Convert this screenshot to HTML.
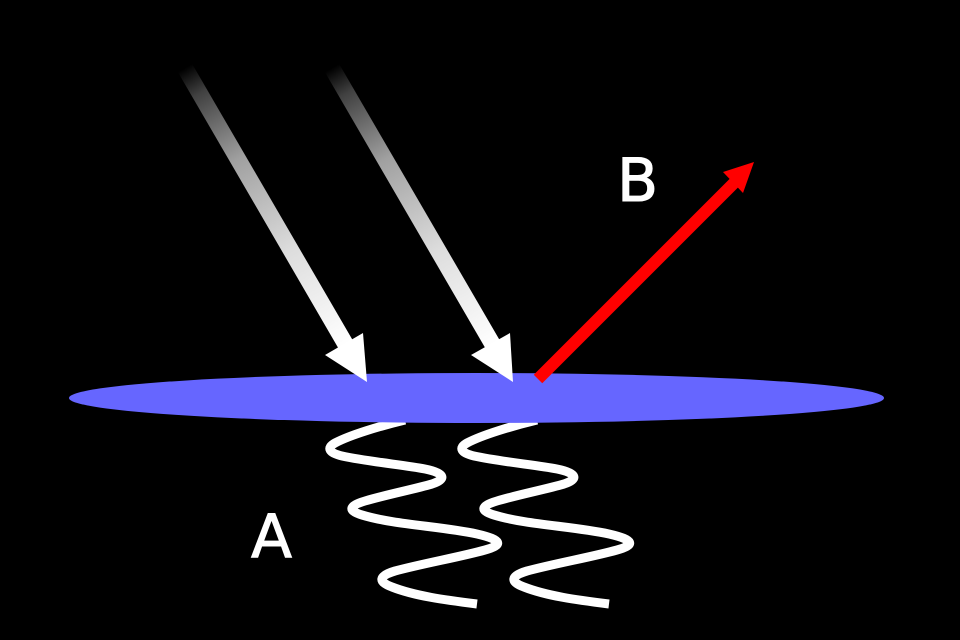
<!DOCTYPE html>
<html>
<head>
<meta charset="utf-8">
<style>
html,body{margin:0;padding:0;background:#000;width:960px;height:640px;overflow:hidden}
svg{display:block}
text{font-family:"DejaVu Sans",sans-serif;fill:#fff;stroke:#fff;stroke-width:1px;font-size:60px}
</style>
</head>
<body>
<svg width="960" height="640" viewBox="0 0 960 640" xmlns="http://www.w3.org/2000/svg">
<defs>
<linearGradient id="g1" gradientUnits="userSpaceOnUse" x1="185" y1="68" x2="346" y2="345">
<stop offset="0" stop-color="#000"/>
<stop offset="0.09" stop-color="#404040"/>
<stop offset="0.33" stop-color="#a0a0a0"/>
<stop offset="0.66" stop-color="#dddddd"/>
<stop offset="1" stop-color="#fff"/>
</linearGradient>
<linearGradient id="g2" gradientUnits="userSpaceOnUse" x1="332" y1="68" x2="493" y2="345">
<stop offset="0" stop-color="#000"/>
<stop offset="0.09" stop-color="#404040"/>
<stop offset="0.33" stop-color="#a0a0a0"/>
<stop offset="0.66" stop-color="#dddddd"/>
<stop offset="1" stop-color="#fff"/>
</linearGradient>
</defs>
<rect width="960" height="640" fill="#000"/>
<g fill="none" stroke="#fff" stroke-width="9">
<path d="M405 420 C380 426 350 435 335 443 C326 448 329 453 342 456 C370 462 405 465 425 469 C445 473 447 479 432 484 C415 489 385 495 365 501 C348 506 348 511 362 515 C395 525 440 526 477 534 C503 540 503 545 485 550 C460 557 425 563 395 571 C378 576 378 582 392 587 C415 596 445 600 477 604"/>
<path transform="translate(132,0)" d="M405 420 C380 426 350 435 335 443 C326 448 329 453 342 456 C370 462 405 465 425 469 C445 473 447 479 432 484 C415 489 385 495 365 501 C348 506 348 511 362 515 C395 525 440 526 477 534 C503 540 503 545 485 550 C460 557 425 563 395 571 C378 576 378 582 392 587 C415 596 445 600 477 604"/>
</g>
<ellipse cx="476.5" cy="398" rx="407.5" ry="25" fill="#6666ff"/>
<polygon points="177.9,72.1 192.1,63.9 353.1,340.9 338.9,349.1" fill="url(#g1)"/>
<polygon points="324.9,72.1 339.1,63.9 500.1,340.9 485.9,349.1" fill="url(#g2)"/>
<polygon points="367,382 363,333 325,355" fill="#fff"/>
<polygon points="513,382 510,333 471,355" fill="#fff"/>
<line x1="538" y1="379" x2="734" y2="183" stroke="#f00" stroke-width="12"/>
<polygon points="754,162 723,172 743,193" fill="#f00"/>
<text x="617" y="201">B</text>
<text x="251" y="557">A</text>
</svg>
</body>
</html>
